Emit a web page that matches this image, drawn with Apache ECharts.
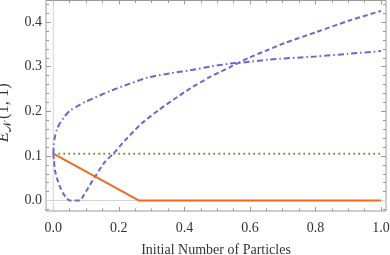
<!DOCTYPE html>
<html><head><meta charset="utf-8">
<script src="https://cdn.jsdelivr.net/npm/echarts@6/dist/echarts.min.js"></script>
<style>html,body{margin:0;padding:0;background:#fff}#c{width:390px;height:255px}</style>
</head><body><div id="c"></div>
<script>
// ---- data ----
const xTicks = [0, 0.2, 0.4, 0.6, 0.8, 1.0];
const yTicks = [0, 0.1, 0.2, 0.3, 0.4];
const orangeX = [0, 0.262, 1.0];
const orangeY = [0.105, 0, 0];
const greenX = [0, 1.0];
const greenY = [0.105, 0.105];
const dashedX = [0, 0.002, 0.005, 0.012, 0.02, 0.03, 0.041, 0.051, 0.066, 0.081, 0.092, 0.102, 0.127, 0.158, 0.183, 0.219, 0.27, 0.32, 0.366, 0.417, 0.478, 0.539, 0.6, 0.656, 0.702, 0.804, 0.905, 1.0];
const dashedY = [0.105, 0.09, 0.068, 0.048, 0.031, 0.016, 0.005, 0, 0, 0, 0.011, 0.023, 0.053, 0.087, 0.105, 0.135, 0.173, 0.202, 0.226, 0.251, 0.277, 0.299, 0.321, 0.338, 0.352, 0.378, 0.404, 0.425];
const dashDotX = [0, 0.0015, 0.005, 0.011, 0.02, 0.034, 0.051, 0.075, 0.097, 0.143, 0.178, 0.233, 0.295, 0.356, 0.417, 0.478, 0.539, 0.6, 0.656, 0.8, 0.9, 1.0];
const dashDotY = [0.105, 0.125, 0.143, 0.159, 0.173, 0.188, 0.202, 0.212, 0.221, 0.236, 0.247, 0.262, 0.277, 0.285, 0.292, 0.3, 0.307, 0.311, 0.316, 0.323, 0.329, 0.335];

const XMIN = -0.0223, XMAX = 1.0153, YMIN = -0.0235, YMAX = 0.4485;
const zip = (a, b) => a.map((v, i) => [v, b[i]]);
const range = (a, b, s) => { const r = []; for (let v = a; v <= b + 1e-9; v += s) r.push(+v.toFixed(4)); return r; };
const xMinor = range(0, 1.0, 0.05).filter(v => !xTicks.some(t => Math.abs(t - v) < 1e-6));
const yMinor = range(-0.02, 0.44, 0.02).filter(v => !yTicks.some(t => Math.abs(t - v) < 1e-6));

const serif = 'Liberation Serif';
const tickCol = '#9a9a9a';
function xAx(pos, vals, len, labels) {
  return { type: 'value', min: XMIN, max: XMAX, position: pos,
    axisLine: { show: false, onZero: false }, splitLine: { show: false },
    axisTick: { show: true, inside: true, length: len, customValues: vals, lineStyle: { color: tickCol } },
    axisLabel: labels ? { show: true, customValues: vals, margin: 10, formatter: v => v.toFixed(1), fontFamily: serif, fontSize: 14, color: '#333' } : { show: false } };
}
function yAx(pos, vals, len, labels) {
  return { type: 'value', min: YMIN, max: YMAX, position: pos,
    axisLine: { show: false, onZero: false }, splitLine: { show: false },
    axisTick: { show: true, inside: true, length: len, customValues: vals, lineStyle: { color: tickCol } },
    axisLabel: labels ? { show: true, customValues: vals, margin: 4, formatter: v => v.toFixed(1), fontFamily: serif, fontSize: 14, color: '#333' } : { show: false } };
}
const xAxes = [xAx('bottom', xTicks, 4, true), xAx('bottom', xMinor, 2.5, false), xAx('top', xTicks, 4, false), xAx('top', xMinor, 2.5, false)];
xAxes[0].name = 'Initial Number of Particles';
xAxes[0].nameLocation = 'middle';
xAxes[0].nameGap = 32;
xAxes[0].nameTextStyle = { fontFamily: serif, fontSize: 14, color: '#333' };
const yAxes = [yAx('left', yTicks, 5, true), yAx('left', yMinor, 3, false), yAx('right', yTicks, 5, false), yAx('right', yMinor, 3, false)];
yAxes[0].name = '{i|E}{s|𝒩}{n|(1, 1)}';
yAxes[0].nameLocation = 'middle';
yAxes[0].nameRotate = 90;
yAxes[0].nameGap = 31;
yAxes[0].nameTextStyle = { color: '#333', padding: [0, 14, 0, 0], rich: {
  i: { fontFamily: serif, fontStyle: 'italic', fontSize: 16.5, color: '#333' },
  s: { fontFamily: 'DejaVu Serif', fontSize: 11, color: '#333', padding: [8, 2, 0, 0] },
  n: { fontFamily: serif, fontSize: 16.5, color: '#333' } } };

const blue = '#6767d8';
const axisGray = '#d4d4d4';
const chart = echarts.init(document.getElementById('c'), null, { renderer: 'canvas' });
chart.setOption({
  animation: false,
  grid: { left: 46, right: 4, top: 0.5, bottom: 44, containLabel: false, outerBoundsMode: 'none', show: true, borderColor: '#9a9a9a', borderWidth: 1, backgroundColor: 'transparent' },
  xAxis: xAxes,
  yAxis: yAxes,
  series: [
    { type: 'line', data: [[XMIN, 0], [XMAX, 0]], showSymbol: false, silent: true, z: 1, lineStyle: { color: axisGray, width: 1 } },
    { type: 'line', data: [[0, YMIN], [0, YMAX]], showSymbol: false, silent: true, z: 1, lineStyle: { color: axisGray, width: 1 } },
    { type: 'line', data: zip(greenX, greenY), showSymbol: false, z: 2, lineStyle: { color: '#6b9b2f', width: 2, type: [1.8, 3.2] } },
    { type: 'line', data: zip(dashDotX, dashDotY), showSymbol: false, smooth: 0.25, z: 3, lineStyle: { color: blue, width: 2, type: [6, 3, 1.5, 3] } },
    { type: 'line', data: zip(dashedX, dashedY), showSymbol: false, smooth: 0.25, z: 3, lineStyle: { color: blue, width: 2, type: [5, 3] } },
    { type: 'line', data: zip(orangeX, orangeY), showSymbol: false, z: 4, lineStyle: { color: '#f26a1b', width: 2 } }
  ]
});
</script></body></html>
